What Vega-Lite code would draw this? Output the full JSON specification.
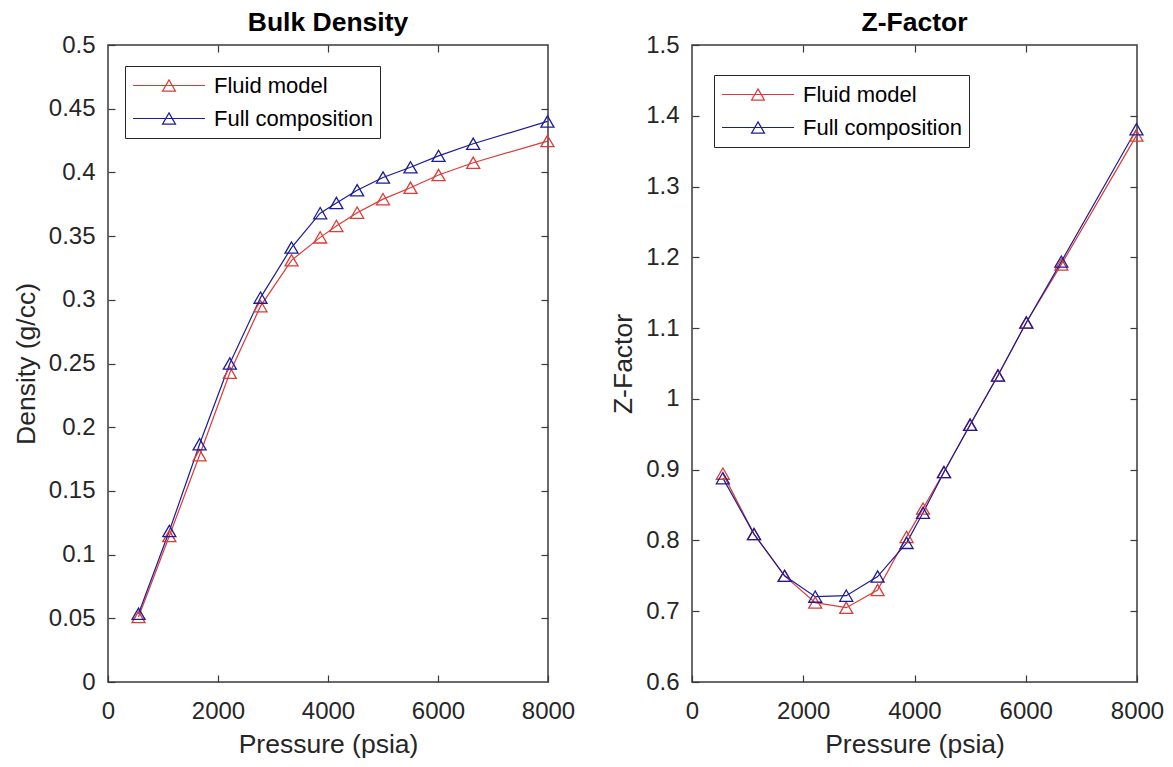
{
  "$schema": "https://vega.github.io/schema/vega-lite/v6.json",
  "background": "white",
  "padding": {"left": 12, "top": 8, "right": 2, "bottom": 0},
  "spacing": 33,
  "config": {
    "font": "Liberation Sans",
    "view": {"stroke": "#3a3a3a", "strokeWidth": 1.5},
    "axis": {
      "grid": false,
      "domain": false,
      "tickSize": -7,
      "tickColor": "#3a3a3a",
      "tickWidth": 1.2,
      "labelFlush": false,
      "labelOverlap": false,
      "labelFont": "Liberation Sans",
      "labelFontSize": 24,
      "labelColor": "#262626",
      "titleFont": "Liberation Sans",
      "titleFontSize": 26.5,
      "titleFontWeight": "normal",
      "titleColor": "#262626",
      "titlePadding": 8
    },
    "axisX": {"labelPadding": 24},
    "axisY": {"labelPadding": 20},
    "title": {"font": "Liberation Sans", "fontSize": 26.5, "fontWeight": "bold", "color": "#000000", "offset": -3},
    "legend": {
      "orient": "none",
      "title": null,
      "strokeColor": "#262626",
      "fillColor": "white",
      "padding": 7,
      "symbolType": "M-1,0L1,0M0,-0.156L0.18,0.156L-0.18,0.156Z",
      "symbolSize": 5184,
      "symbolStrokeWidth": 1.2,
      "symbolFillColor": "transparent",
      "labelFont": "Liberation Sans",
      "labelFontSize": 22,
      "labelColor": "#000000",
      "labelOffset": 8,
      "clipHeight": 25,
      "rowPadding": 8
    }
  },
  "datasets": {
    "d": [
      {"panel": "density", "series": "Fluid model", "pressure": 555, "value": 0.051},
      {"panel": "density", "series": "Fluid model", "pressure": 1115, "value": 0.1146},
      {"panel": "density", "series": "Fluid model", "pressure": 1665, "value": 0.178},
      {"panel": "density", "series": "Fluid model", "pressure": 2215, "value": 0.2428},
      {"panel": "density", "series": "Fluid model", "pressure": 2773, "value": 0.295},
      {"panel": "density", "series": "Fluid model", "pressure": 3337, "value": 0.331},
      {"panel": "density", "series": "Fluid model", "pressure": 3858, "value": 0.349},
      {"panel": "density", "series": "Fluid model", "pressure": 4153, "value": 0.358},
      {"panel": "density", "series": "Fluid model", "pressure": 4530, "value": 0.3684},
      {"panel": "density", "series": "Fluid model", "pressure": 5000, "value": 0.379},
      {"panel": "density", "series": "Fluid model", "pressure": 5500, "value": 0.388},
      {"panel": "density", "series": "Fluid model", "pressure": 6010, "value": 0.398},
      {"panel": "density", "series": "Fluid model", "pressure": 6640, "value": 0.4076},
      {"panel": "density", "series": "Fluid model", "pressure": 7990, "value": 0.4246},
      {"panel": "density", "series": "Full composition", "pressure": 555, "value": 0.0536},
      {"panel": "density", "series": "Full composition", "pressure": 1115, "value": 0.1185},
      {"panel": "density", "series": "Full composition", "pressure": 1665, "value": 0.1866},
      {"panel": "density", "series": "Full composition", "pressure": 2215, "value": 0.25},
      {"panel": "density", "series": "Full composition", "pressure": 2773, "value": 0.3017},
      {"panel": "density", "series": "Full composition", "pressure": 3337, "value": 0.341},
      {"panel": "density", "series": "Full composition", "pressure": 3858, "value": 0.368},
      {"panel": "density", "series": "Full composition", "pressure": 4153, "value": 0.376},
      {"panel": "density", "series": "Full composition", "pressure": 4530, "value": 0.386},
      {"panel": "density", "series": "Full composition", "pressure": 5000, "value": 0.396},
      {"panel": "density", "series": "Full composition", "pressure": 5500, "value": 0.404},
      {"panel": "density", "series": "Full composition", "pressure": 6010, "value": 0.413},
      {"panel": "density", "series": "Full composition", "pressure": 6640, "value": 0.4225},
      {"panel": "density", "series": "Full composition", "pressure": 7990, "value": 0.44},
      {"panel": "z", "series": "Fluid model", "pressure": 555, "value": 0.8944},
      {"panel": "z", "series": "Fluid model", "pressure": 1115, "value": 0.809},
      {"panel": "z", "series": "Fluid model", "pressure": 1665, "value": 0.75},
      {"panel": "z", "series": "Fluid model", "pressure": 2215, "value": 0.7122},
      {"panel": "z", "series": "Fluid model", "pressure": 2773, "value": 0.705},
      {"panel": "z", "series": "Fluid model", "pressure": 3337, "value": 0.73},
      {"panel": "z", "series": "Fluid model", "pressure": 3858, "value": 0.805},
      {"panel": "z", "series": "Fluid model", "pressure": 4153, "value": 0.845},
      {"panel": "z", "series": "Fluid model", "pressure": 4530, "value": 0.8966},
      {"panel": "z", "series": "Fluid model", "pressure": 5000, "value": 0.9634},
      {"panel": "z", "series": "Fluid model", "pressure": 5500, "value": 1.033},
      {"panel": "z", "series": "Fluid model", "pressure": 6010, "value": 1.108},
      {"panel": "z", "series": "Fluid model", "pressure": 6640, "value": 1.19},
      {"panel": "z", "series": "Fluid model", "pressure": 7990, "value": 1.372},
      {"panel": "z", "series": "Full composition", "pressure": 555, "value": 0.888},
      {"panel": "z", "series": "Full composition", "pressure": 1115, "value": 0.809},
      {"panel": "z", "series": "Full composition", "pressure": 1665, "value": 0.75},
      {"panel": "z", "series": "Full composition", "pressure": 2215, "value": 0.7206},
      {"panel": "z", "series": "Full composition", "pressure": 2773, "value": 0.722},
      {"panel": "z", "series": "Full composition", "pressure": 3337, "value": 0.749},
      {"panel": "z", "series": "Full composition", "pressure": 3858, "value": 0.7966},
      {"panel": "z", "series": "Full composition", "pressure": 4153, "value": 0.839},
      {"panel": "z", "series": "Full composition", "pressure": 4530, "value": 0.8966},
      {"panel": "z", "series": "Full composition", "pressure": 5000, "value": 0.9634},
      {"panel": "z", "series": "Full composition", "pressure": 5500, "value": 1.033},
      {"panel": "z", "series": "Full composition", "pressure": 6010, "value": 1.108},
      {"panel": "z", "series": "Full composition", "pressure": 6640, "value": 1.194},
      {"panel": "z", "series": "Full composition", "pressure": 7990, "value": 1.381}
    ]
  },
  "resolve": {"scale": {"color": "independent"}, "legend": {"color": "independent"}},
  "hconcat": [
    {
      "title": "Bulk Density",
      "width": 440,
      "height": 637,
      "data": {"name": "d"},
      "transform": [{"filter": "datum.panel == 'density'"}],
      "layer": [
        {
          "mark": {"type": "line", "strokeWidth": 1.2},
          "encoding": {
            "x": {"field": "pressure", "type": "quantitative", "scale": {"domain": [0, 8000], "nice": false}, "axis": {"orient": "bottom", "values": [0, 2000, 4000, 6000, 8000], "format": "d", "title": "Pressure (psia)"}},
            "y": {"field": "value", "type": "quantitative", "scale": {"domain": [0, 0.5], "nice": false}, "axis": {"orient": "left", "values": [0, 0.05, 0.1, 0.15, 0.2, 0.25, 0.3, 0.35, 0.4, 0.45, 0.5], "format": ".2~f", "title": "Density (g/cc)"}},
            "color": {"field": "series", "type": "nominal", "scale": {"domain": ["Fluid model", "Full composition"], "range": ["#dd3b35", "#1c1c99"]}, "legend": {"legendX": 17, "legendY": 21}}
          }
        },
        {
          "mark": {"type": "point", "shape": "triangle-up", "filled": false, "size": 169, "strokeWidth": 1.3, "opacity": 1},
          "encoding": {
            "x": {"field": "pressure", "type": "quantitative", "scale": {"domain": [0, 8000], "nice": false}, "axis": {"orient": "top", "values": [2000, 4000, 6000], "labels": false, "title": null}},
            "y": {"field": "value", "type": "quantitative", "scale": {"domain": [0, 0.5], "nice": false}, "axis": {"orient": "right", "values": [0.05, 0.1, 0.15, 0.2, 0.25, 0.3, 0.35, 0.4, 0.45], "labels": false, "title": null}},
            "color": {"field": "series", "type": "nominal", "scale": {"domain": ["Fluid model", "Full composition"], "range": ["#dd3b35", "#1c1c99"]}, "legend": {"legendX": 17, "legendY": 21}}
          }
        }
      ]
    },
    {
      "title": "Z-Factor",
      "width": 445,
      "height": 637,
      "data": {"name": "d"},
      "transform": [{"filter": "datum.panel == 'z'"}],
      "layer": [
        {
          "mark": {"type": "line", "strokeWidth": 1.2},
          "encoding": {
            "x": {"field": "pressure", "type": "quantitative", "scale": {"domain": [0, 8000], "nice": false}, "axis": {"orient": "bottom", "values": [0, 2000, 4000, 6000, 8000], "format": "d", "title": "Pressure (psia)"}},
            "y": {"field": "value", "type": "quantitative", "scale": {"domain": [0.6, 1.5], "nice": false, "zero": false}, "axis": {"orient": "left", "values": [0.6, 0.7, 0.8, 0.9, 1, 1.1, 1.2, 1.3, 1.4, 1.5], "format": ".1~f", "title": "Z-Factor"}},
            "color": {"field": "series", "type": "nominal", "scale": {"domain": ["Fluid model", "Full composition"], "range": ["#dd3b35", "#1c1c99"]}, "legend": {"legendX": 22, "legendY": 30}}
          }
        },
        {
          "mark": {"type": "point", "shape": "triangle-up", "filled": false, "size": 169, "strokeWidth": 1.3, "opacity": 1},
          "encoding": {
            "x": {"field": "pressure", "type": "quantitative", "scale": {"domain": [0, 8000], "nice": false}, "axis": {"orient": "top", "values": [2000, 4000, 6000], "labels": false, "title": null}},
            "y": {"field": "value", "type": "quantitative", "scale": {"domain": [0.6, 1.5], "nice": false, "zero": false}, "axis": {"orient": "right", "values": [0.7, 0.8, 0.9, 1, 1.1, 1.2, 1.3, 1.4], "labels": false, "title": null}},
            "color": {"field": "series", "type": "nominal", "scale": {"domain": ["Fluid model", "Full composition"], "range": ["#dd3b35", "#1c1c99"]}, "legend": {"legendX": 22, "legendY": 30}}
          }
        }
      ]
    }
  ]
}
